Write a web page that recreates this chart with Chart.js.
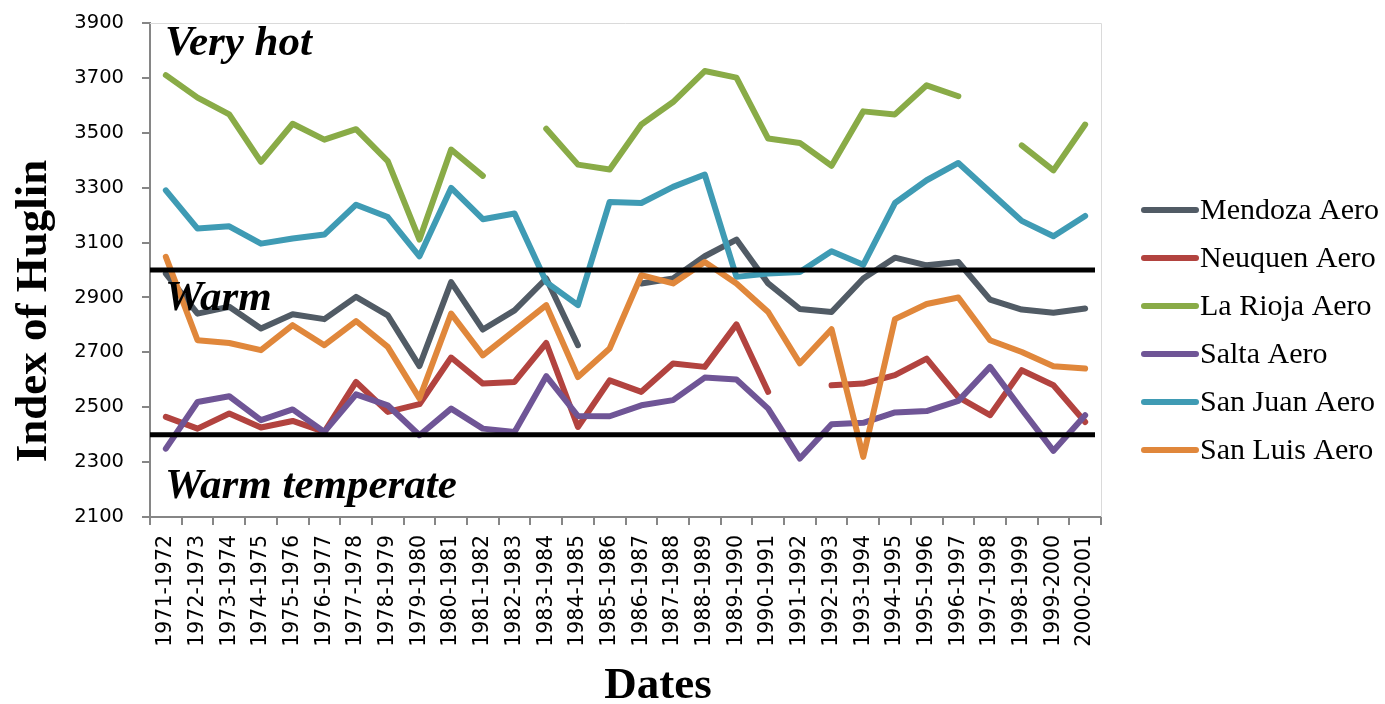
<!DOCTYPE html>
<html>
<head>
<meta charset="utf-8">
<script src="https://cdn.jsdelivr.net/npm/chart.js@4.4.1/dist/chart.umd.min.js"></script>
<style>
  html, body { margin: 0; padding: 0; background: #ffffff; }
  #wrap { width: 1385px; height: 704px; }
</style>
</head>
<body>
<div id="wrap"><canvas id="huglin" width="1385" height="704"></canvas></div>
<script>
// Huglin index per growing season, Argentine airport stations
const categories = [
  '1971-1972','1972-1973','1973-1974','1974-1975','1975-1976','1976-1977',
  '1977-1978','1978-1979','1979-1980','1980-1981','1981-1982','1982-1983',
  '1983-1984','1984-1985','1985-1986','1986-1987','1987-1988','1988-1989',
  '1989-1990','1990-1991','1991-1992','1992-1993','1993-1994','1994-1995',
  '1995-1996','1996-1997','1997-1998','1998-1999','1999-2000','2000-2001'
];

const mendozaAero = [2987, 2841, 2866, 2787, 2839, 2821, 2902, 2835, 2650, 2956,
                     2783, 2853, 2969, 2726, null, 2951, 2969, 3050, 3111, 2951,
                     2858, 2847, 2969, 3045, 3017, 3029, 2892, 2856, 2844, 2860];
const neuquenAero = [2465, 2422, 2477, 2426, 2450, 2410, 2592, 2483, 2511, 2681,
                     2586, 2592, 2734, 2428, 2598, 2556, 2659, 2647, 2802, 2556,
                     null, 2580, 2586, 2617, 2677, 2537, 2471, 2635, 2580, 2446];
const laRiojaAero = [3710, 3628, 3567, 3394, 3533, 3475, 3513, 3397, 3111, 3439,
                     3343, null, 3515, 3384, 3366, 3530, 3612, 3725, 3701, 3479,
                     3463, 3380, 3578, 3567, 3673, 3633, null, 3454, 3363, 3530];
const saltaAero   = [2349, 2519, 2540, 2453, 2492, 2410, 2547, 2507, 2398, 2495,
                     2422, 2410, 2613, 2468, 2467, 2507, 2526, 2608, 2601, 2495,
                     2313, 2438, 2443, 2481, 2486, 2523, 2647, 2492, 2341, 2471];
const sanJuanAero = [3290, 3151, 3159, 3096, 3115, 3129, 3238, 3193, 3050, 3299,
                     3185, 3206, 2956, 2872, 3248, 3244, 3303, 3348, 2975, 2987,
                     2993, 3068, 3019, 3244, 3327, 3390, 3284, 3179, 3123, 3197];
const sanLuisAero = [3048, 2744, 2734, 2708, 2799, 2726, 2814, 2720, 2532, 2841,
                     2689, 2780, 2872, 2610, 2714, 2981, 2951, 3029, 2951, 2847,
                     2660, 2784, 2319, 2821, 2876, 2900, 2744, 2701, 2649, 2641];

const seriesNames  = ['Mendoza Aero','Neuquen Aero','La Rioja Aero','Salta Aero','San Juan Aero','San Luis Aero'];
const seriesValues = [mendozaAero, neuquenAero, laRiojaAero, saltaAero, sanJuanAero, sanLuisAero];
const seriesColors = ['#515b65','#b2433f','#89ab47','#6f5596','#3f9bb4','#e0873b'];

// y axis range and class limits of the Huglin index
const yMin = 2100, yMax = 3900, yStep = 200;
const classLimits = [3000, 2400];
const classNames = ['Very hot', 'Warm', 'Warm temperate'];
const classLabelValues = [3782, 2853, 2169];

const datasets = seriesValues.map((vals, i) => ({
  label: seriesNames[i],
  data: vals,
  borderColor: seriesColors[i],
  backgroundColor: seriesColors[i],
  borderWidth: 6,
  pointRadius: 0,
  tension: 0,
  spanGaps: false,
  borderCapStyle: 'round',
  borderJoinStyle: 'round',
  order: seriesNames.length - i
}));

// light frame around the plot area
const plotFrame = {
  id: 'plotFrame',
  beforeDatasetsDraw(chart) {
    const { ctx, chartArea: a } = chart;
    ctx.save();
    ctx.strokeStyle = '#dadada';
    ctx.lineWidth = 1;
    ctx.beginPath();
    ctx.moveTo(a.left, a.top + 0.5);
    ctx.lineTo(a.right + 0.5, a.top + 0.5);
    ctx.lineTo(a.right + 0.5, a.bottom);
    ctx.stroke();
    ctx.restore();
  }
};

// class limit lines, class names, axis titles and legend
const annotations = {
  id: 'annotations',
  afterDatasetsDraw(chart) {
    const { ctx, chartArea: a, scales: { y } } = chart;
    ctx.save();
    ctx.strokeStyle = '#000000';
    ctx.lineWidth = 5;
    classLimits.forEach(v => {
      const py = y.getPixelForValue(v);
      ctx.beginPath();
      ctx.moveTo(a.left, py);
      ctx.lineTo(a.right - 6, py);
      ctx.stroke();
    });

    ctx.fillStyle = '#000000';
    ctx.font = 'italic bold 43px "Liberation Serif"';
    ctx.textAlign = 'left';
    ctx.textBaseline = 'alphabetic';
    classNames.forEach((t, i) => {
      ctx.fillText(t, a.left + 15, y.getPixelForValue(classLabelValues[i]));
    });

    // axis titles
    ctx.font = 'bold 45px "Liberation Serif"';
    ctx.textAlign = 'center';
    ctx.textBaseline = 'middle';
    ctx.fillText('Dates', 658, 686);
    ctx.save();
    ctx.translate(34, 311);
    ctx.rotate(-Math.PI / 2);
    ctx.fillText('Index of Huglin', 0, 0);
    ctx.restore();

    // legend
    ctx.font = '30px "Liberation Serif"';
    ctx.textAlign = 'left';
    ctx.textBaseline = 'middle';
    ctx.lineCap = 'round';
    chart.data.datasets.forEach((ds, i) => {
      const cy = 210 + i * 48;
      ctx.strokeStyle = ds.borderColor;
      ctx.lineWidth = 6;
      ctx.beginPath();
      ctx.moveTo(1144, cy);
      ctx.lineTo(1196, cy);
      ctx.stroke();
      ctx.fillStyle = '#000000';
      ctx.fillText(ds.label, 1200, cy + 1);
    });
    ctx.restore();
  }
};

new Chart(document.getElementById('huglin'), {
  type: 'line',
  data: { labels: categories, datasets },
  options: {
    responsive: false,
    animation: false,
    devicePixelRatio: 1,
    layout: { padding: { top: 23, right: 284, bottom: 0, left: 0 } },
    plugins: { legend: { display: false }, tooltip: { enabled: false } },
    scales: {
      x: {
        type: 'category',
        offset: true,
        grid: { display: true, drawOnChartArea: false, offset: true, tickLength: 8, color: '#868686', lineWidth: 2 },
        border: { display: true, color: '#868686', width: 2 },
        ticks: {
          autoSkip: false, minRotation: 90, maxRotation: 90, padding: 10,
          color: '#000000', font: { family: '"DejaVu Sans"', size: 20.5 }
        },
        afterFit(scale) { scale.height = 187; }
      },
      y: {
        min: yMin, max: yMax,
        grid: { display: true, drawOnChartArea: false, tickLength: 8, color: '#868686', lineWidth: 2 },
        border: { display: true, color: '#868686', width: 2 },
        ticks: {
          stepSize: yStep, padding: 18,
          color: '#000000', font: { family: '"DejaVu Sans"', size: 19.5 },
          callback: v => String(v)
        },
        afterFit(scale) {
          scale.width = 150;
          scale.paddingTop = 0;
          scale.paddingBottom = 0;
        }
      }
    }
  },
  plugins: [plotFrame, annotations]
});
</script>
</body>
</html>
